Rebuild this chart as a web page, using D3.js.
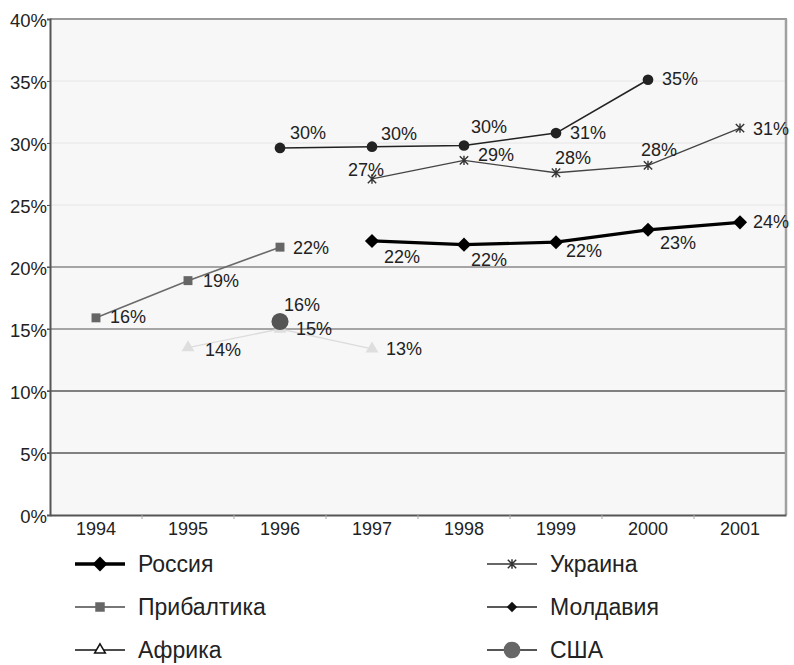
<!DOCTYPE html>
<html>
<head>
<meta charset="utf-8">
<script src="https://cdn.jsdelivr.net/npm/d3@7"></script>
<style>
  html, body { margin: 0; padding: 0; background: #fff; }
  svg { display: block; }
  text { font-family: "Liberation Sans", Arial, sans-serif; fill: #222; }
</style>
</head>
<body>
<svg id="chart" width="794" height="665"></svg>
<script>
// ---- data ----
const years = ["1994", "1995", "1996", "1997", "1998", "1999", "2000", "2001"];
const yTicks = [0, 5, 10, 15, 20, 25, 30, 35, 40];

const russia    = [null, null, null, 22.1, 21.8, 22.0, 23.0, 23.6];
const ukraine   = [null, null, null, 27.1, 28.6, 27.6, 28.2, 31.2];
const baltic    = [15.9, 18.9, 21.6, null, null, null, null, null];
const moldova   = [null, null, 29.6, 29.7, 29.8, 30.8, 35.1, null];
const africa    = [null, 13.5, 15.0, 13.4, null, null, null, null];
const usa       = [null, null, 15.6, null, null, null, null, null];

const seriesNames = ["Россия", "Украина", "Прибалтика", "Молдавия", "Африка", "США"];

// ---- label placement (offsets of the text baseline from the point, px) ----
const labelOffsets = {
  "Россия":     [null, null, null, [12, 22], [7, 21], [10, 15], [12, 19], [13, 6]],
  "Украина":    [null, null, null, [-24, -3], [14, 1], [-1, -9], [-7, -9], [13, 7]],
  "Прибалтика": [[14, 5], [15, 6], [13, 7], null, null, null, null, null],
  "Молдавия":   [null, null, [10, -9], [9, -7], [7, -12], [14, 6], [14, 5], null],
  "Африка":     [null, [17, 8], [16, 6], [14, 6], null, null, null, null],
  "США":        [null, null, [4, -11], null, null, null, null, null]
};

const styles = {
  "Россия":     { line: "#000", width: 3.2, marker: "diamond", size: 100, fill: "#000" },
  "Украина":    { line: "#444", width: 1.3, marker: "star", size: 70, fill: "#333" },
  "Прибалтика": { line: "#6a6a6a", width: 1.6, marker: "square", size: 80, fill: "#666" },
  "Молдавия":   { line: "#222", width: 1.6, marker: "circle", size: 90, fill: "#222" },
  "Африка":     { line: "#dcdcdc", width: 1.4, marker: "triangle", size: 70, fill: "#dedede" },
  "США":        { line: "#555", width: 1.6, marker: "circle", size: 230, fill: "#555" }
};
const legendStyles = {
  "Россия":     { line: "#000", width: 3.5, marker: "diamond", size: 110, fill: "#000", stroke: "none" },
  "Украина":    { line: "#333", width: 1.4, marker: "star", size: 70, fill: "#333", stroke: "none" },
  "Прибалтика": { line: "#777", width: 1.8, marker: "square", size: 90, fill: "#666", stroke: "none" },
  "Молдавия":   { line: "#222", width: 1.6, marker: "diamond", size: 55, fill: "#111", stroke: "none" },
  "Африка":     { line: "#111", width: 1.6, marker: "triangle", size: 50, fill: "#fff", stroke: "#111" },
  "США":        { line: "#555", width: 1.8, marker: "circle", size: 220, fill: "#666", stroke: "none" }
};

const dataBySeries = {
  "Россия": russia, "Украина": ukraine, "Прибалтика": baltic,
  "Молдавия": moldova, "Африка": africa, "США": usa
};

// ---- layout ----
const svg = d3.select("#chart");
const plot = { left: 50, top: 19, right: 786, bottom: 515 };

const x = d3.scaleBand().domain(years).range([plot.left, plot.right]);
const y = d3.scaleLinear().domain([0, 40]).range([plot.bottom, plot.top]);
const cx = d => x(d) + x.bandwidth() / 2;

// marker path centred at the origin
function markerPath(kind, size) {
  if (kind === "star") {
    const s = Math.sqrt(size) / 2;
    return `M${-s},${-s}L${s},${s}M${-s},${s}L${s},${-s}M0,${-s - 0.5}L0,${s + 0.5}`;
  }
  const t = { diamond: d3.symbolSquare, square: d3.symbolSquare, circle: d3.symbolCircle,
              triangle: d3.symbolTriangle }[kind];
  return d3.symbol(t, size)();
}
const markerRotate = kind => kind === "diamond" ? " rotate(45)" : "";

// plot background
svg.append("rect")
  .attr("x", plot.left).attr("y", plot.top)
  .attr("width", plot.right - plot.left).attr("height", plot.bottom - plot.top)
  .attr("fill", "#f7f7f7");

// horizontal gridlines
const gridColor = v => v >= 25 ? "#e6e6e6" : (v >= 15 ? "#8a8a8a" : "#5a5a5a");
svg.append("g").selectAll("line")
  .data(yTicks.filter(v => v > 0 && v < 40))
  .join("line")
  .attr("x1", plot.left - 3).attr("x2", plot.right)
  .attr("y1", d => y(d)).attr("y2", d => y(d))
  .attr("stroke", gridColor)
  .attr("stroke-width", d => d >= 25 ? 1 : 1.4);

// frame: top and right
svg.append("line").attr("x1", plot.left).attr("x2", plot.right + 1)
  .attr("y1", plot.top).attr("y2", plot.top).attr("stroke", "#9a9a9a").attr("stroke-width", 2);
svg.append("line").attr("x1", plot.right).attr("x2", plot.right)
  .attr("y1", plot.top).attr("y2", plot.bottom).attr("stroke", "#a0a0a0").attr("stroke-width", 2.5);

// y axis
const yAxis = svg.append("g")
  .attr("transform", `translate(${plot.left},0)`)
  .call(d3.axisLeft(y).tickValues(yTicks).tickFormat(d => d + "%").tickSize(3).tickPadding(0));
yAxis.select(".domain").attr("stroke", "#555").attr("stroke-width", 2);
yAxis.selectAll(".tick line").attr("stroke", "#555");
yAxis.selectAll(".tick text")
  .attr("font-family", "'Liberation Sans', Arial, sans-serif")
  .attr("font-size", 18.5).attr("fill", "#222").attr("dy", "0.4em");

// x axis
const xAxis = svg.append("g")
  .attr("transform", `translate(0,${plot.bottom})`)
  .call(d3.axisBottom(x).tickSize(0).tickPadding(7));
xAxis.select(".domain").attr("stroke", "#555").attr("stroke-width", 2);
xAxis.selectAll(".tick text")
  .attr("font-family", "'Liberation Sans', Arial, sans-serif")
  .attr("font-size", 18).attr("fill", "#222");
// boundary ticks between categories
svg.append("g").selectAll("line")
  .data(years.slice(1))
  .join("line")
  .attr("x1", d => x(d)).attr("x2", d => x(d))
  .attr("y1", plot.bottom).attr("y2", plot.bottom + 4)
  .attr("stroke", "#aaa");

// series
const lineGen = d3.line()
  .defined(d => d.v !== null)
  .x(d => cx(d.year))
  .y(d => y(d.v));

const drawOrder = ["Африка", "Прибалтика", "Украина", "Молдавия", "Россия", "США"];
drawOrder.forEach(name => {
  const st = styles[name];
  const pts = years.map((yr, i) => ({ year: yr, v: dataBySeries[name][i], i }));
  const g = svg.append("g");
  g.append("path")
    .datum(pts)
    .attr("d", lineGen)
    .attr("fill", "none")
    .attr("stroke", st.line)
    .attr("stroke-width", st.width)
    .attr("stroke-linejoin", "round");
  const valid = pts.filter(p => p.v !== null);
  const mk = g.selectAll("path.mk").data(valid).join("path")
    .attr("class", "mk")
    .attr("d", markerPath(st.marker, st.size))
    .attr("transform", p => `translate(${cx(p.year)},${y(p.v)})${markerRotate(st.marker)}`);
  if (st.marker === "star") {
    mk.attr("fill", "none").attr("stroke", st.fill).attr("stroke-width", 1.4);
  } else {
    mk.attr("fill", st.fill);
  }
});

// value labels
seriesNames.forEach(name => {
  const vals = dataBySeries[name];
  const offs = labelOffsets[name];
  years.forEach((yr, i) => {
    if (vals[i] === null) return;
    const o = offs[i];
    svg.append("text")
      .attr("x", cx(yr) + o[0])
      .attr("y", y(vals[i]) + o[1])
      .attr("font-size", 18)
      .attr("fill", "#222")
      .text(Math.round(vals[i]) + "%");
  });
});

// legend
const legendItems = [
  { name: "Россия", x: 75, y: 564 },
  { name: "Украина", x: 487, y: 564 },
  { name: "Прибалтика", x: 75, y: 607 },
  { name: "Молдавия", x: 487, y: 607 },
  { name: "Африка", x: 75, y: 650 },
  { name: "США", x: 487, y: 650 }
];
const lg = svg.append("g");
legendItems.forEach(it => {
  const st = legendStyles[it.name];
  const g = lg.append("g").attr("transform", `translate(${it.x},${it.y})`);
  g.append("line").attr("x1", 0).attr("x2", 50).attr("y1", 0).attr("y2", 0)
    .attr("stroke", st.line).attr("stroke-width", st.width);
  const m = g.append("path")
    .attr("d", markerPath(st.marker, st.size))
    .attr("transform", `translate(25,0)${markerRotate(st.marker)}`);
  if (st.marker === "star") {
    m.attr("fill", "none").attr("stroke", st.fill).attr("stroke-width", 1.5);
  } else {
    m.attr("fill", st.fill).attr("stroke", st.stroke).attr("stroke-width", 1.5);
  }
  g.append("text")
    .attr("x", 63)
    .attr("dy", "0.36em")
    .attr("font-size", 23)
    .attr("fill", "#222")
    .text(it.name);
});
</script>
</body>
</html>
